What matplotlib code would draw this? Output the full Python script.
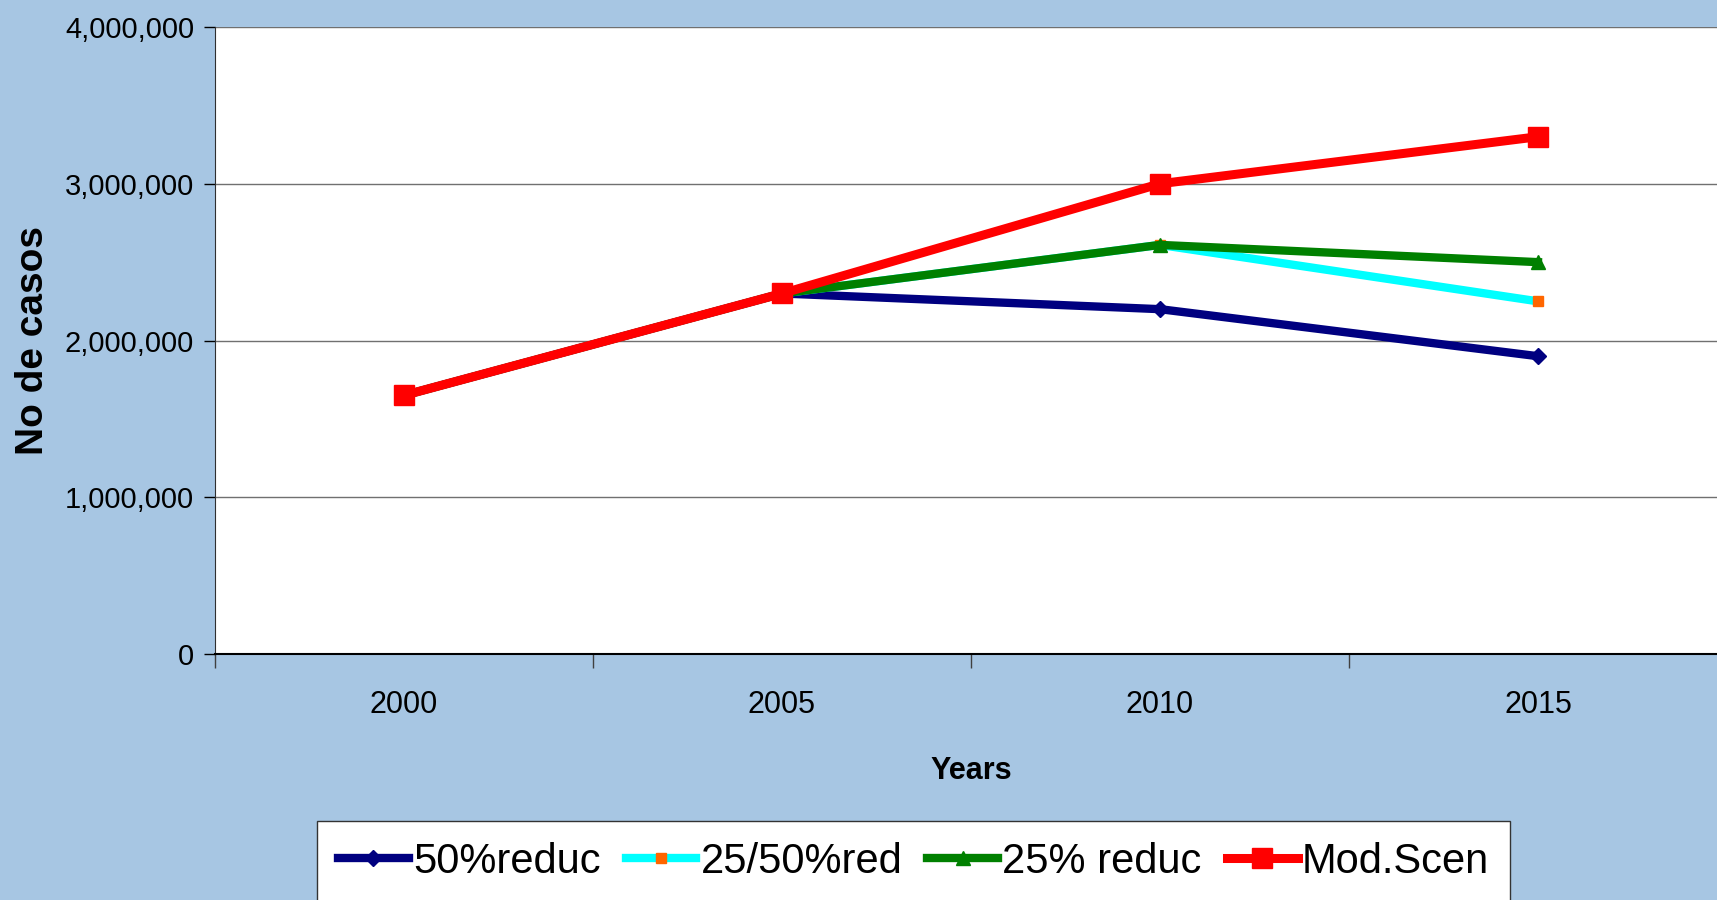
import matplotlib.pyplot as plt
from matplotlib.ticker import FuncFormatter, FixedLocator

plt.rcParams['font.family'] = ['Liberation Sans', 'DejaVu Sans']

# data
years = ['2000', '2005', '2010', '2015']
red50 = [1650000, 2300000, 2200000, 1900000]
red25_50 = [1650000, 2300000, 2610000, 2250000]
red25 = [1650000, 2300000, 2610000, 2500000]
mod_scen = [1650000, 2300000, 3000000, 3300000]

bg = '#A7C6E3'
fig = plt.figure(figsize=(17.17, 9), dpi=100, facecolor=bg)
ax = fig.add_axes([0.1252, 0.2733, 0.8806, 0.6967])
ax.set_facecolor('white')

x = range(len(years))
ax.plot(x, red50, color='#000080', lw=6, marker='D', ms=8, label='50%reduc', zorder=3)
ax.plot(x, red25_50, color='#00FFFF', lw=6, marker='s', ms=7,
        mfc='#FF6600', mec='#FF6600', label='25/50%red', zorder=4)
ax.plot(x, red25, color='#008000', lw=6, marker='^', ms=10, label='25% reduc', zorder=5)
ax.plot(x, mod_scen, color='#FF0000', lw=6.5, marker='s', ms=15, label='Mod.Scen', zorder=6)

ax.set_xlim(-0.5, 3.5)
ax.set_ylim(0, 4000000)
ax.xaxis.set_major_locator(FixedLocator([-0.5, 0.5, 1.5, 2.5, 3.5]))
ax.xaxis.set_major_formatter(FuncFormatter(lambda v, p: ''))
ax.xaxis.set_minor_locator(FixedLocator(list(x)))
ax.set_xticklabels(years, minor=True)
ax.tick_params(axis='x', which='major', direction='out', length=10, width=1, color='#404040')
ax.tick_params(axis='x', which='minor', length=0, pad=26, labelsize=22)

ax.set_yticks([0, 1000000, 2000000, 3000000, 4000000])
ax.yaxis.set_major_formatter(FuncFormatter(lambda v, p: f'{int(v):,}'))
ax.tick_params(axis='y', direction='out', length=8, width=1, labelsize=21, pad=7)
ax.yaxis.grid(True, color='#707070', lw=1)
ax.set_axisbelow(True)

for s in ['top', 'right']:
    ax.spines[s].set_visible(False)
ax.spines['left'].set_color('#303030')
ax.spines['bottom'].set_color('black')
ax.spines['bottom'].set_linewidth(1.5)

ax.set_xlabel('Years', fontsize=22, fontweight='bold', labelpad=26)
ax.set_ylabel('No de casos', fontsize=28, fontweight='bold', labelpad=10)

leg = fig.legend(loc='upper center', bbox_to_anchor=(0.532, 0.088), ncol=4,
                 fontsize=30, frameon=True, fancybox=False, handlelength=1.7,
                 handletextpad=0.1, columnspacing=0.6, borderpad=0.5,
                 borderaxespad=0, framealpha=1)
leg.get_frame().set_edgecolor('#333333')
leg.get_frame().set_facecolor('white')
leg.get_frame().set_linewidth(1)

fig.savefig('out.png', dpi=100, facecolor=bg)
